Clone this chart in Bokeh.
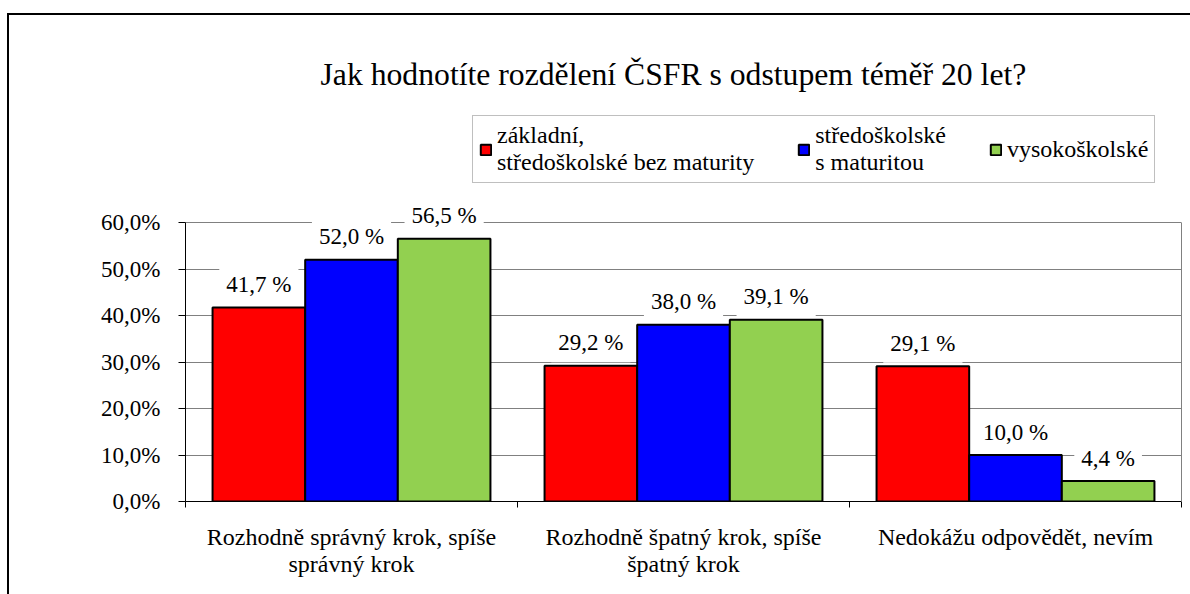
from bokeh.plotting import figure
from bokeh.models import Range1d, FixedTicker, LinearAxis, Legend, LegendItem, Label, Title
from bokeh.embed import file_html
from bokeh.resources import INLINE

# ---- data ----
title_text = "Jak hodnotíte rozdělení ČSFR s odstupem téměř 20 let?"
categories = [
    "Rozhodně správný krok, spíše\nsprávný krok",
    "Rozhodně špatný krok, spíše\nšpatný krok",
    "Nedokážu odpovědět, nevím",
]
series_names = [
    "základní,\nstředoškolské bez maturity",
    "středoškolské\ns maturitou",
    "vysokoškolské",
]
series_colors = ["#FF0000", "#0000FF", "#92D050"]
zakladni = [41.7, 29.2, 29.1]
stredoskolske_s_maturitou = [52.0, 38.0, 10.0]
vysokoskolske = [56.5, 39.1, 4.4]
y_ticks = [0, 10, 20, 30, 40, 50, 60]
y_tick_labels = ["0,0%", "10,0%", "20,0%", "30,0%", "40,0%", "50,0%", "60,0%"]

series_values = [zakladni, stredoskolske_s_maturitou, vysokoskolske]

FONT = "Liberation Serif"
BAR_W = 0.279
offsets = [-BAR_W, 0.0, BAR_W]

# layout: the frame also holds the legend strip above the 0-60 % plot area
PLOT_H = 279          # pixel height of the 0..60 % area
FRAME_H = 396         # frame height including the legend strip
y_top = y_ticks[-1] * FRAME_H / PLOT_H

p = figure(
    frame_width=996, frame_height=FRAME_H,
    x_range=Range1d(0, len(categories)), y_range=Range1d(y_ticks[0], y_top),
    x_axis_type=None,
    output_backend="svg", toolbar_location=None,
    min_border_left=176, min_border_right=9, min_border_top=90, min_border_bottom=93,
)
p.margin = (13, 0, 0, 7)
p.styles = {"border-left": "2px solid black", "border-top": "2px solid black"}
p.background_fill_color = "white"
p.border_fill_color = "white"
p.outline_line_color = None

# bars
renderers = []
for vals, off, col in zip(series_values, offsets, series_colors):
    xs = [i + 0.5 + off for i in range(len(categories))]
    r = p.vbar(x=xs, top=vals, bottom=0, width=BAR_W, fill_color=col,
               line_color="black", line_width=2)
    renderers.append(r)
    for x, v in zip(xs, vals):
        txt = f"{v:.1f} %".replace(".", ",")
        p.add_layout(Label(x=x, y=v, text=txt, text_align="center", text_baseline="middle",
                           y_offset=23, text_font=FONT, text_font_size="23px",
                           text_color="black", background_fill_color="white", padding=7))

# y axis
yax = p.yaxis[0]
yax.bounds = (y_ticks[0], y_ticks[-1])
yax.ticker = FixedTicker(ticks=y_ticks)
yax.major_label_overrides = dict(zip(y_ticks, y_tick_labels))
yax.major_label_text_font = FONT
yax.major_label_text_font_size = "23px"
yax.major_label_text_color = "black"
yax.major_label_standoff = 18
yax.major_tick_out = 7
yax.major_tick_in = 0
yax.minor_tick_line_color = None
yax.axis_line_color = "black"
yax.major_tick_line_color = "black"

# right edge of the plot area
rax = LinearAxis(bounds=(y_ticks[0], y_ticks[-1]), ticker=FixedTicker(ticks=[]),
                 axis_line_color="#808080", major_tick_line_color=None,
                 minor_tick_line_color=None, major_label_text_font_size="1px")
p.add_layout(rax, "right")

p.xgrid.visible = False
p.ygrid.ticker = FixedTicker(ticks=y_ticks)
p.ygrid.grid_line_color = "#808080"
p.ygrid.grid_line_width = 1

# x axes: boundary ticks + category labels
ax1 = LinearAxis(ticker=FixedTicker(ticks=list(range(len(categories) + 1))),
                 major_label_text_font_size="1px", major_label_text_color=None,
                 major_tick_out=6, major_tick_in=0,
                 minor_tick_line_color=None, axis_line_color="black",
                 major_tick_line_color="black", major_label_standoff=0)
p.add_layout(ax1, "below")
cat_pos = [i + 0.5 for i in range(len(categories))]
ax2 = LinearAxis(ticker=FixedTicker(ticks=cat_pos),
                 major_label_overrides=dict(zip(cat_pos, categories)),
                 major_label_text_font=FONT, major_label_text_font_size="24px",
                 major_label_text_line_height=1.05,
                 major_label_text_color="black", major_label_standoff=10,
                 axis_line_color=None, major_tick_line_color=None, minor_tick_line_color=None)
p.add_layout(ax2, "below")

# legend in the strip above the plot area
legend = Legend(
    items=[LegendItem(label=n, renderers=[r]) for n, r in zip(series_names, renderers)],
    orientation="horizontal", location=(287, PLOT_H + 39),
    label_text_font=FONT, label_text_font_size="24px", label_text_color="black",
    label_text_line_height=1.04,
    glyph_width=13, glyph_height=13, label_standoff=5, spacing=43,
    padding=6, margin=0, border_line_color="#808080", border_line_width=1,
    background_fill_color="white", background_fill_alpha=1.0,
)
p.add_layout(legend, "center")

p.add_layout(Title(text=title_text, align="left", offset=135, standoff=27,
                   text_font=FONT, text_font_size="31.7px",
                   text_font_style="normal", text_color="black"), "above")

open("out.html", "w").write(file_html(p, INLINE))
